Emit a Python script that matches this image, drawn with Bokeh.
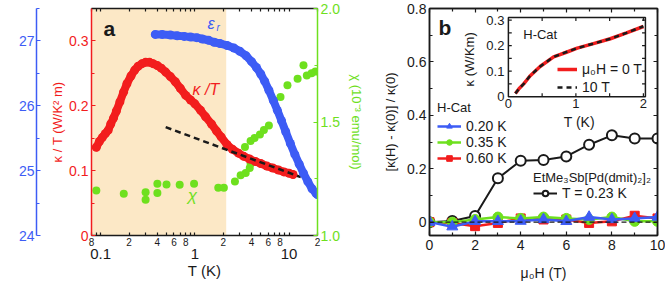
import math
from bokeh.plotting import figure
from bokeh.models import (Range1d, LinearAxis, LogAxis, FixedTicker, BoxAnnotation, Label,
                          Legend, LegendItem, Span)
from bokeh.layouts import row
from bokeh.embed import file_html
from bokeh.resources import INLINE
from bokeh.core.properties import value

FONT = "Liberation Sans"
RED = "#f21d1d"
BLUE = "#3d5cf5"
GREEN = "#6ee01e"
SHADE = "#fce8c6"
BLACK = "#1a1a1a"

# ---------------- panel a data ----------------
kT_T = [0.090, 0.097, 0.104, 0.112, 0.120, 0.128, 0.137, 0.147, 0.160, 0.175, 0.190, 0.210,
        0.230, 0.250, 0.275, 0.300, 0.330, 0.360, 0.400, 0.440, 0.490, 0.550, 0.620, 0.700,
        0.800, 0.900, 1.00, 1.15, 1.30, 1.50, 1.70, 1.90, 2.20, 2.50, 2.90, 3.30, 3.80, 4.40,
        5.00, 5.80, 6.70, 7.70, 8.80, 10.0, 11.0]
kT_val = [0.136, 0.145, 0.151, 0.157, 0.162, 0.172, 0.181, 0.192, 0.206, 0.221, 0.234, 0.246,
          0.255, 0.261, 0.265, 0.267, 0.267, 0.265, 0.262, 0.258, 0.252, 0.245, 0.237, 0.227,
          0.216, 0.209, 0.203, 0.193, 0.183, 0.172, 0.161, 0.152, 0.140, 0.133, 0.127, 0.122,
          0.118, 0.114, 0.111, 0.107, 0.104, 0.101, 0.098, 0.096, 0.094]

eps_T = [0.38, 0.45, 0.55, 0.65, 0.77, 0.9, 1.05, 1.2, 1.4, 1.6, 1.85, 2.2, 2.6, 3.0, 3.5, 4.0,
         4.5, 5.0, 5.5, 6.1, 6.8, 7.5, 8.3, 9.2, 10.3, 11.5, 12.8, 14.2, 15.8, 17.5, 19.3, 20.0]
eps_val = [27.10, 27.10, 27.09, 27.08, 27.07, 27.06, 27.05, 27.03, 27.01, 26.98, 26.96, 26.93,
           26.89, 26.84, 26.77, 26.68, 26.59, 26.49, 26.38, 26.24, 26.08, 25.93, 25.77, 25.60,
           25.42, 25.25, 25.10, 24.96, 24.83, 24.72, 24.65, 24.63]

chi_T = [0.09, 0.176, 0.30, 0.30, 0.40, 0.40, 0.50, 0.69, 0.98, 1.77, 2.03, 2.66, 3.06, 3.46,
         3.82, 3.9, 3.4, 3.9, 4.3, 4.9, 5.4, 6.1, 6.9, 8.1, 9.6, 12.3, 14.2, 15.4, 17.3, 19.0]
chi_val = [1.198, 1.184, 1.191, 1.157, 1.187, 1.228, 1.225, 1.224, 1.228, 1.21, 1.21, 1.238,
           1.265, 1.275, 1.297, 1.316, 1.39, 1.416, 1.43, 1.445, 1.465, 1.485, 1.595, 1.61,
           1.662, 1.69, 1.75, 1.705, 1.715, 1.722]

fit_T = [0.49, 13.3]
fit_val = [0.167, 0.090]
shade_T = [0.08, 2.15]

a_major = [0.1, 1, 10]
a_labeled = [0.08, 0.2, 0.4, 0.6, 0.8, 2, 4, 6, 8, 20]
a_minor = [0.09, 0.3, 0.5, 0.7, 0.9, 3, 5, 7, 9]

# ---------------- panel b data ----------------
H = [0, 1, 2, 3, 4, 5, 6, 7, 8, 9, 10]
etme_023 = [0.0, 0.004, 0.023, 0.164, 0.230, 0.233, 0.246, 0.290, 0.325, 0.313, 0.313]
hcat_020 = [0.0, -0.017, 0.003, 0.003, 0.004, 0.010, 0.003, 0.019, 0.010, 0.014, 0.019]
hcat_035 = [0.0, 0.0, 0.010, 0.019, 0.014, 0.019, 0.014, 0.010, 0.019, 0.003, 0.003]
hcat_060 = [0.0, -0.003, -0.015, -0.003, 0.014, 0.010, 0.010, -0.003, 0.003, 0.024, 0.014]

inset_T = [0.104, 0.16, 0.227, 0.32, 0.47, 0.67, 0.87, 1.02, 1.26, 1.51, 1.75, 2.0]
inset_k0 = [0.012, 0.032, 0.050, 0.081, 0.118, 0.156, 0.175, 0.190, 0.208, 0.227, 0.250, 0.275]
inset_k10 = [0.012, 0.032, 0.050, 0.081, 0.118, 0.156, 0.176, 0.190, 0.208, 0.227, 0.250, 0.276]
inset_xticks = [0, 0.5, 1, 1.5, 2]
inset_yticks = [0, 0.05, 0.1, 0.15, 0.2, 0.25, 0.3]
inset_xlab_pos = [0, 1, 2]
inset_xlabels = ["0", "1", "2"]
inset_ylab_pos = [0, 0.1, 0.2, 0.3]
inset_ylabels = ["0", "0.1", "0.2", "0.3"]


def style_axis(ax, color, size="14px", standoff=3):
    ax.axis_line_color = color
    ax.axis_line_width = 1.5
    ax.major_tick_line_color = color
    ax.minor_tick_line_color = color
    ax.major_tick_line_width = 1.2
    ax.minor_tick_line_width = 1.2
    ax.major_tick_in = 4
    ax.major_tick_out = 0
    ax.minor_tick_in = 3
    ax.minor_tick_out = 0
    ax.major_label_text_color = color
    ax.major_label_text_font = FONT
    ax.major_label_text_font_size = size
    ax.major_label_standoff = standoff
    ax.axis_label_text_font = FONT
    ax.axis_label_text_font_style = "normal"
    ax.axis_label_text_color = color


def text_width(s, px):
    w = {".": 0.278, " ": 0.278}
    return sum(w.get(c, 0.556) for c in s) * px


# ================= PANEL A =================
pa = figure(width=370, height=287, x_axis_type="log", x_range=Range1d(0.08, 20),
            y_range=Range1d(0, 0.35), output_backend="svg", toolbar_location=None,
            x_axis_location=None, y_axis_location=None,
            min_border_left=91, min_border_right=53, min_border_top=8, min_border_bottom=52)
pa.xgrid.visible = False
pa.ygrid.visible = False
pa.outline_line_color = None
pa.background_fill_color = "white"
pa.border_fill_color = "white"
pa.extra_y_ranges = {"eps": Range1d(24, 27.5), "chi": Range1d(1.0, 2.0)}

# bottom axis 1: small labels
all_log = sorted(a_major + a_labeled)
ov1 = {t: "" for t in a_major}
ov1.update({t: str(int(round(t / 10 ** math.floor(math.log10(t) + 1e-9)))) for t in a_labeled})
axb1 = LogAxis(ticker=FixedTicker(ticks=all_log, minor_ticks=a_minor), major_label_overrides=ov1)
style_axis(axb1, BLACK, size="10px", standoff=2)
axb1.major_tick_in = 3
axb1.minor_tick_in = 3
pa.add_layout(axb1, "below")
# bottom axis 2: big labels + title
axb2 = LogAxis(ticker=FixedTicker(ticks=a_major, minor_ticks=[]),
               major_label_overrides={0.1: "0.1", 1: "1", 10: "10"},
               axis_label="T (K)")
style_axis(axb2, BLACK, size="15px", standoff=0)
axb2.axis_line_color = None
axb2.major_tick_line_color = None
axb2.minor_tick_line_color = None
axb2.axis_label_text_font_size = "15px"
axb2.axis_label_standoff = 0
pa.add_layout(axb2, "below")
# top axis
axt = LogAxis(ticker=FixedTicker(ticks=all_log, minor_ticks=a_minor))
style_axis(axt, BLACK, size="0px", standoff=0)
axt.major_tick_in = 3
axt.major_label_text_alpha = 0
pa.add_layout(axt, "above")

# left axis kappa/T
axk = LinearAxis(ticker=FixedTicker(ticks=[0, 0.1, 0.2, 0.3], minor_ticks=[0.05, 0.15, 0.25]),
                 major_label_overrides={0: "0", 0.1: "0.1", 0.2: "0.2", 0.3: "0.3"},
                 axis_label="κ / T (W/K² m)")
style_axis(axk, RED, size="14px", standoff=3)
axk.axis_label_text_font_size = "13px"
axk.axis_label_standoff = 1
pa.add_layout(axk, "left")
# spacer axis (empty gap between the two left axes)
axs = LinearAxis(ticker=FixedTicker(ticks=[], minor_ticks=[]), axis_label=" ")
axs.axis_line_color = None
axs.major_tick_line_color = None
axs.minor_tick_line_color = None
axs.major_label_standoff = 0
axs.axis_label_standoff = 7
axs.axis_label_text_font_size = "1px"
pa.add_layout(axs, "left")
# left axis eps (its title is drawn as a label further left)
axe = LinearAxis(y_range_name="eps",
                 ticker=FixedTicker(ticks=[24, 25, 26, 27], minor_ticks=[24.5, 25.5, 26.5, 27.5]))
style_axis(axe, BLUE, size="14px", standoff=2)
pa.add_layout(axe, "left")
pa.add_layout(Label(x=pa.x_range.start, x_offset=-81, y=0.18, text="εᵣ", angle=math.pi / 2,
                    text_font="DejaVu Sans", text_font_size="14px", text_font_style="italic",
                    text_color=BLUE, text_align="left", text_baseline="middle"))
# right axis chi
axc = LinearAxis(y_range_name="chi",
                 ticker=FixedTicker(ticks=[1.0, 1.5, 2.0], minor_ticks=[1.25, 1.75]),
                 major_label_overrides={1.0: "1.0", 1.5: "1.5", 2.0: "2.0"},
                 axis_label="χ (10⁻³ emu/mol)")
style_axis(axc, GREEN, size="14px", standoff=3)
axc.axis_label_text_font_size = "13px"
axc.axis_label_standoff = 6
pa.add_layout(axc, "right")

pa.add_layout(BoxAnnotation(left=shade_T[0], right=shade_T[1], fill_color=SHADE, fill_alpha=1.0,
                            line_color=None, level="underlay"))

pa.scatter(chi_T, chi_val, y_range_name="chi", size=8, color=GREEN, line_color=None)
pa.line(kT_T, kT_val, color=RED, line_width=8, line_cap="round", line_join="round")
pa.scatter(kT_T, kT_val, size=9, color=RED, line_color=None)
pa.line(fit_T, fit_val, color=BLACK, line_width=2.5, line_dash="6 4")
pa.line(eps_T, eps_val, y_range_name="eps", color=BLUE, line_width=8, line_cap="round",
        line_join="round")
pa.scatter(eps_T, eps_val, y_range_name="eps", size=9, color=BLUE, line_color=None)

pa.add_layout(Label(x=0.107, y=0.319, text="a", text_font=FONT, text_font_size="21px",
                    text_font_style="bold", text_color=BLACK, text_baseline="middle"))
pa.add_layout(Label(x=1.36, y=0.327, text="ε", text_font=FONT, text_font_size="16px",
                    text_font_style="italic", text_color=BLUE, text_baseline="middle"))
pa.add_layout(Label(x=1.36, y=0.327, x_offset=9, y_offset=-4, text="r", text_font=FONT,
                    text_font_size="10px", text_font_style="italic", text_color=BLUE,
                    text_baseline="middle"))
pa.add_layout(Label(x=0.945, y=0.225, text="κ /T", text_font=FONT, text_font_size="16px",
                    text_font_style="italic", text_color=RED, text_baseline="middle"))
pa.add_layout(Label(x=0.84, y=0.062, text="χ", text_font=FONT, text_font_size="17px",
                    text_font_style="italic", text_color=GREEN, text_baseline="middle"))

# ================= PANEL B =================
pb = figure(width=295, height=287, x_range=Range1d(0, 10), y_range=Range1d(-0.05, 0.8),
            output_backend="svg", toolbar_location=None,
            x_axis_location=None, y_axis_location=None,
            min_border_left=59, min_border_right=8, min_border_top=8, min_border_bottom=52)
pb.xgrid.visible = False
pb.ygrid.visible = False
pb.outline_line_color = BLACK
pb.outline_line_width = 1.5

bx_t = FixedTicker(ticks=[0, 2, 4, 6, 8, 10], minor_ticks=[1, 3, 5, 7, 9])
by_t = FixedTicker(ticks=[0, 0.2, 0.4, 0.6, 0.8], minor_ticks=[0.1, 0.3, 0.5, 0.7])
axbb = LinearAxis(ticker=bx_t, axis_label="μ₀H (T)")
style_axis(axbb, BLACK, size="14px", standoff=4)
axbb.axis_label_text_font_size = "14px"
axbb.axis_label_standoff = 12
pb.add_layout(axbb, "below")
axbl = LinearAxis(ticker=by_t, axis_label="[κ(H) - κ(0)] / κ(0)",
                  major_label_overrides={0: "0", 0.2: "0.2", 0.4: "0.4", 0.6: "0.6", 0.8: "0.8"})
style_axis(axbl, BLACK, size="14px", standoff=3)
axbl.axis_label_text_font_size = "13px"
axbl.axis_label_standoff = 6
pb.add_layout(axbl, "left")
for side, tk in (("right", by_t), ("above", bx_t)):
    ax = LinearAxis(ticker=tk)
    style_axis(ax, BLACK, size="0px", standoff=0)
    ax.major_label_text_alpha = 0
    pb.add_layout(ax, side)

pb.add_layout(Span(location=0, dimension="width", line_color=BLACK, line_width=1.2,
                   line_dash="5 3"))

r_bl = pb.line(H, etme_023, color=BLACK, line_width=2)
r_bp = pb.scatter(H, etme_023, marker="circle", size=10, fill_color="white", line_color=BLACK,
                  line_width=2)
r_rl = pb.line(H, hcat_060, color=RED, line_width=2.5)
r_rp = pb.scatter(H, hcat_060, marker="square", size=9, color=RED)
r_gl = pb.line(H, hcat_035, color=GREEN, line_width=2.5)
r_gp = pb.scatter(H, hcat_035, marker="circle", size=10, color=GREEN)
r_ul = pb.line(H, hcat_020, color=BLUE, line_width=2.5)
r_up = pb.scatter(H, hcat_020, marker="triangle", size=11, color=BLUE)

pb.add_layout(Label(x=0.4, y=0.73, text="b", text_font=FONT, text_font_size="21px",
                    text_font_style="bold", text_color=BLACK, text_baseline="middle"))


def style_legend(lg):
    lg.border_line_color = None
    lg.background_fill_alpha = 0
    lg.padding = 0
    lg.margin = 0
    lg.spacing = 0
    lg.glyph_width = 24
    lg.glyph_height = 14
    lg.label_height = 14
    lg.label_standoff = 5
    lg.label_text_font = FONT
    lg.label_text_font_size = "14px"
    lg.label_text_color = BLACK
    lg.title_text_font = FONT
    lg.title_text_font_size = "13px"
    lg.title_text_font_style = "normal"
    lg.title_text_color = BLACK
    lg.title_standoff = 1


leg1 = Legend(title="H-Cat", location=(8, 69), items=[
    LegendItem(label="0.20 K", renderers=[r_ul, r_up]),
    LegendItem(label="0.35 K", renderers=[r_gl, r_gp]),
    LegendItem(label="0.60 K", renderers=[r_rl, r_rp]),
])
style_legend(leg1)
leg1.title_standoff = 3
pb.add_layout(leg1)
leg2 = Legend(title="EtMe₃Sb[Pd(dmit)₂]₂", location=(104, 34), items=[
    LegendItem(label="T = 0.23 K", renderers=[r_bl, r_bp]),
])
style_legend(leg2)
leg2.title_standoff = 0
pb.add_layout(leg2)

# ---- inset ----
xs = Range1d(0, 2.03)
ys = Range1d(0, 0.31)
xtg = Range1d(3.46, 9.47)
ytg = Range1d(0.470, 0.766)
sub = pb.subplot(x_source=xs, y_source=ys, x_target=xtg, y_target=ytg)
PX = (pb.x_range.end - pb.x_range.start) / 228.0   # panel-b x data units per pixel


def to_parent_x(v):
    return xtg.start + (v - xs.start) * (xtg.end - xtg.start) / (xs.end - xs.start)


def to_parent_y(v):
    return ytg.start + (v - ys.start) * (ytg.end - ytg.start) / (ys.end - ys.start)


sub.quad(left=[xs.start], right=[xs.end], bottom=[ys.start], top=[ys.end], fill_color="white",
         line_color=BLACK, line_width=1.5)
tx, ty = 0.05, 0.013
xt = [t for t in inset_xticks if xs.start < t < xs.end]
yt = [t for t in inset_yticks if ys.start < t < ys.end]
sub.segment(x0=xt, y0=[ys.start] * len(xt), x1=xt, y1=[ys.start + ty] * len(xt),
            line_color=BLACK, line_width=1.2)
sub.segment(x0=xt, y0=[ys.end] * len(xt), x1=xt, y1=[ys.end - ty] * len(xt),
            line_color=BLACK, line_width=1.2)
sub.segment(x0=[xs.start] * len(yt), y0=yt, x1=[xs.start + tx] * len(yt), y1=yt,
            line_color=BLACK, line_width=1.2)
sub.segment(x0=[xs.end] * len(yt), y0=yt, x1=[xs.end - tx] * len(yt), y1=yt,
            line_color=BLACK, line_width=1.2)
for pos, lab in zip(inset_xlab_pos, inset_xlabels):
    pb.add_layout(Label(x=to_parent_x(pos) - text_width(lab, 13) / 2 * PX,
                        y=to_parent_y(ys.start), y_offset=-2, text=lab,
                        text_align="left", text_baseline="top", text_font=FONT,
                        text_font_size="13px", text_color=BLACK))
ylab_x = [to_parent_x(xs.start) - (text_width(lab, 13) + 4) * PX for lab in inset_ylabels]
ylab_y = [to_parent_y(p) for p in inset_ylab_pos]
pb.text(x=ylab_x, y=ylab_y, text=inset_ylabels, text_align="left", text_baseline="middle",
        text_font=value(FONT), text_font_size="13px", text_color=BLACK)
pb.add_layout(Label(x=to_parent_x(0.82), y=to_parent_y(-0.1), text="T (K)", text_align="left",
                    text_baseline="middle", text_font=FONT, text_font_size="14px",
                    text_color=BLACK))
pb.add_layout(Label(x=to_parent_x(-0.57), y=to_parent_y(0.04), text="κ (W/Km)",
                    angle=math.pi / 2, text_align="left", text_baseline="middle",
                    text_font=FONT, text_font_size="13px", text_color=BLACK))
pb.add_layout(Label(x=to_parent_x(0.22), y=to_parent_y(0.245), text="H-Cat", text_align="left",
                    text_baseline="middle", text_font=FONT, text_font_size="13px",
                    text_color=BLACK))
r_i0 = sub.line(inset_T, inset_k0, color=RED, line_width=3.5)
r_i10 = sub.line(inset_T, inset_k10, color=BLACK, line_width=2.5, line_dash="5 4")

leg3 = Legend(location=(128, 140), items=[
    LegendItem(label="μ₀H = 0 T", renderers=[r_i0]),
    LegendItem(label="10 T", renderers=[r_i10]),
])
style_legend(leg3)
leg3.glyph_width = 20
leg3.spacing = 2
pb.add_layout(leg3)

layout = row(pa, pb)
open("out.html", "w").write(file_html(layout, INLINE))
